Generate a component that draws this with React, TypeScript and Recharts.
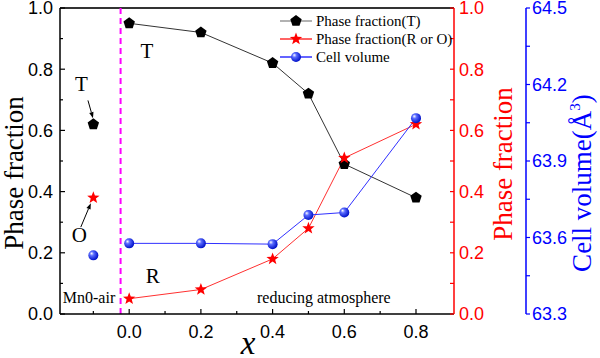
import React from 'react';
import { ComposedChart, Line, XAxis, YAxis, ReferenceLine, ReferenceDot, Legend } from 'recharts';

// ---- data ----
const xValues = [0.0, 0.2, 0.4, 0.5, 0.6, 0.8];
const phaseT = [0.95, 0.92, 0.82, 0.72, 0.49, 0.38];
const phaseRO = [0.05, 0.08, 0.18, 0.28, 0.51, 0.62];
const cellVolume = [63.577, 63.577, 63.574, 63.688, 63.698, 64.068];

const airX = [-0.1];
const airT = [0.62];
const airRO = [0.38];
const airVolume = [63.53];

const xTicks = [-0.1, 0.0, 0.1, 0.2, 0.3, 0.4, 0.5, 0.6, 0.7, 0.8];
const phaseTicks = [0, 0.1, 0.2, 0.3, 0.4, 0.5, 0.6, 0.7, 0.8, 0.9, 1.0];
const volTicks = [63.3, 63.45, 63.6, 63.75, 63.9, 64.05, 64.2, 64.35, 64.5];
const legendNames = ['Phase fraction(T)', 'Phase fraction(R or O)', 'Cell volume'];

const rows: any[] = [
  ...airX.map((x, i) => ({ x, tAir: airT[i], rAir: airRO[i], vAir: airVolume[i] })),
  ...xValues.map((x, i) => ({ x, t: phaseT[i], r: phaseRO[i], v: cellVolume[i] })),
];

const SANS = '"Liberation Sans", Arial, sans-serif';
const SERIF = '"Liberation Serif", "Times New Roman", serif';

// ---- marker shapes ----
const pentagonPts = (cx: number, cy: number, r: number) =>
  Array.from({ length: 5 }, (_, k) => {
    const a = ((-90 + 72 * k) * Math.PI) / 180;
    return `${cx + r * Math.cos(a)},${cy + r * Math.sin(a)}`;
  }).join(' ');
const starPts = (cx: number, cy: number, ro: number, ri: number) =>
  Array.from({ length: 10 }, (_, k) => {
    const a = ((-90 + 36 * k) * Math.PI) / 180;
    const r = k % 2 === 0 ? ro : ri;
    return `${cx + r * Math.cos(a)},${cy + r * Math.sin(a)}`;
  }).join(' ');

const Pent = ({ cx, cy }: any) => <polygon points={pentagonPts(cx, cy, 6)} fill="#000" />;
const Star = ({ cx, cy }: any) => <polygon points={starPts(cx, cy, 6.5, 2.7)} fill="#ff0000" />;
const Ball = ({ cx, cy }: any) => (
  <g>
    <defs>
      <radialGradient id="ballGrad" cx="40%" cy="40%" r="60%" fx="32%" fy="30%">
        <stop offset="0%" stopColor="#ffffff" />
        <stop offset="35%" stopColor="#5a6cff" />
        <stop offset="100%" stopColor="#0010c8" />
      </radialGradient>
    </defs>
    <circle cx={cx} cy={cy} r={5} fill="url(#ballGrad)" />
  </g>
);

const mkDot = (Comp: any) => (p: any) => {
  const { cx, cy, index } = p;
  if (cx == null || cy == null || p.value == null) return <g key={`e${index}`} />;
  return <Comp key={`d${index}`} cx={cx} cy={cy} />;
};

// ---- ticks ----
const isMajorPhase = (v: number) => Math.round(v * 10) % 2 === 0;
const LeftTick = ({ x, y, payload }: any) => {
  const major = isMajorPhase(payload.value);
  return (
    <g>
      <line x1={x} x2={x + (major ? 5 : 3)} y1={y} y2={y} stroke="#000" strokeWidth={1.2} />
      {major && (
        <text x={x - 7} y={y} dy="0.36em" textAnchor="end" fontSize={18} fontFamily={SANS} fill="#000">
          {payload.value.toFixed(1)}
        </text>
      )}
    </g>
  );
};
const RedTick = ({ x, y, payload }: any) => {
  const major = isMajorPhase(payload.value);
  return (
    <g>
      <line x1={x} x2={x - 4} y1={y} y2={y} stroke="#ff0000" strokeWidth={1.2} />
      {major && (
        <text x={x + 5} y={y} dy="0.36em" textAnchor="start" fontSize={18} fontFamily={SANS} fill="#ff0000">
          {payload.value.toFixed(1)}
        </text>
      )}
    </g>
  );
};
const BlueTick = ({ x, y, payload }: any) => {
  const major = Math.round((payload.value - 63.3) / 0.15) % 2 === 0;
  return (
    <g>
      <line x1={x} x2={x + 4} y1={y} y2={y} stroke="#0000ff" strokeWidth={1.2} />
      {major && (
        <text x={x + 6} y={y} dy="0.36em" textAnchor="start" fontSize={18} fontFamily={SANS} fill="#0000ff">
          {payload.value.toFixed(1)}
        </text>
      )}
    </g>
  );
};
const BottomTick = ({ x, y, payload }: any) => {
  const v = payload.value;
  const major = v >= 0 && Math.round(v * 10) % 2 === 0;
  return (
    <g>
      <line x1={x} x2={x} y1={y} y2={y - (major ? 5 : 3)} stroke="#000" strokeWidth={1.2} />
      {major && (
        <text x={x} y={y + 24} textAnchor="middle" fontSize={18} fontFamily={SANS} fill="#000">
          {v.toFixed(1)}
        </text>
      )}
    </g>
  );
};

// ---- annotations ----
const Arrow = (p: any) => {
  const { x1, y1, x2, y2 } = p;
  const a = Math.atan2(y2 - y1, x2 - x1);
  const L = 6, W = 2.2;
  const bx = x2 - L * Math.cos(a), by = y2 - L * Math.sin(a);
  const px = -Math.sin(a) * W, py = Math.cos(a) * W;
  return (
    <g>
      <line x1={x1} y1={y1} x2={bx} y2={by} stroke="#000" strokeWidth={1} />
      <polygon points={`${x2},${y2} ${bx + px},${by + py} ${bx - px},${by - py}`} fill="#000" />
    </g>
  );
};
const txt = (s: string, size: number) => (p: any) => (
  <text x={p.cx} y={p.cy} textAnchor="middle" fontSize={size} fontFamily={SERIF} fill="#000">
    {s}
  </text>
);

const LegendBox = () => (
  <svg width={190} height={60} style={{ display: 'block' }}>
    {legendNames.map((n, i) => {
      const cy = 11 + i * 18;
      const col = i === 0 ? '#999999' : i === 1 ? '#ff3030' : '#3030ff';
      const M = i === 0 ? Pent : i === 1 ? Star : Ball;
      return (
        <g key={n}>
          <line x1={2} x2={34} y1={cy} y2={cy} stroke={col} strokeWidth={1.5} />
          <M cx={18} cy={cy} />
          <text x={38} y={cy} dy="0.35em" fontSize={15} fontFamily={SERIF} fill="#000">
            {n}
          </text>
        </g>
      );
    })}
  </svg>
);

export default function App() {
  return (
    <div style={{ position: 'absolute', left: 0, top: 0, width: 600, height: 358, background: '#fff' }}>
      <ComposedChart width={600} height={358} data={rows} margin={{ top: 8, right: 0, bottom: 0, left: 0 }}>
        <XAxis
          dataKey="x"
          type="number"
          domain={[-0.193, 0.906]}
          ticks={xTicks}
          interval={0}
          height={44}
          tickSize={0}
          tickMargin={0}
          tickLine={false}
          tick={<BottomTick />}
          axisLine={{ stroke: '#000', strokeWidth: 1.5 }}
          allowDataOverflow
          label={{
            content: (pr: any) => {
              const vb = pr.viewBox;
              return (
                <text x={vb.x + vb.width / 2 - 9} y={vb.y + 40} textAnchor="middle" fontSize={33} fontStyle="italic" fontFamily={SERIF} fill="#000">
                  x
                </text>
              );
            },
          }}
        />
        <YAxis
          yAxisId="left"
          domain={[0, 1]}
          ticks={phaseTicks}
          interval={0}
          width={60}
          tickSize={0}
          tickMargin={0}
          tickLine={false}
          tick={<LeftTick />}
          axisLine={{ stroke: '#000', strokeWidth: 1.5 }}
          label={{
            content: (pr: any) => {
              const vb = pr.viewBox;
              const x = vb.x + 23, y = vb.y + 165;
              return (
                <text x={x} y={y} transform={`rotate(-90, ${x}, ${y})`} textAnchor="middle" fontSize={27} fontFamily={SERIF} fill="#000">
                  Phase fraction
                </text>
              );
            },
          }}
        />
        <YAxis
          yAxisId="right"
          orientation="right"
          domain={[0, 1]}
          ticks={phaseTicks}
          interval={0}
          width={72}
          tickSize={0}
          tickMargin={0}
          tickLine={false}
          tick={<RedTick />}
          axisLine={{ stroke: '#ff0000', strokeWidth: 1.5 }}
          label={{
            content: (pr: any) => {
              const vb = pr.viewBox;
              const x = vb.x + 58, y = vb.y + 156;
              return (
                <text x={x} y={y} transform={`rotate(-90, ${x}, ${y})`} textAnchor="middle" fontSize={27} fontFamily={SERIF} fill="#ff0000">
                  Phase fraction
                </text>
              );
            },
          }}
        />
        <YAxis
          yAxisId="vol"
          orientation="right"
          domain={[63.3, 64.5]}
          ticks={volTicks}
          interval={0}
          width={74}
          tickSize={0}
          tickMargin={0}
          tickLine={false}
          tick={<BlueTick />}
          axisLine={{ stroke: '#0000ff', strokeWidth: 1.5 }}
          label={{
            content: (pr: any) => {
              const vb = pr.viewBox;
              const x = vb.x + 65, y = vb.y + 175;
              return (
                <text x={x} y={y} transform={`rotate(-90, ${x}, ${y})`} textAnchor="middle" fontSize={27} fontFamily={SERIF} fill="#0000ff">
                  Cell volume(Å<tspan dy={-11} fontSize={15}>3</tspan><tspan dy={11}>)</tspan>
                </text>
              );
            },
          }}
        />
        <Legend layout="vertical" align="center" verticalAlign="middle" wrapperStyle={{ left: 278, top: 10, width: 190, height: 60 }} content={() => <LegendBox />} />

        <ReferenceLine yAxisId="left" y={1} stroke="#333" strokeWidth={2} />
        <ReferenceLine yAxisId="left" x={-0.024} stroke="#ff00ff" strokeWidth={2} strokeDasharray="6 4" />

        <Line yAxisId="left" dataKey="t" stroke="#333" strokeWidth={1} dot={mkDot(Pent)} activeDot={false} isAnimationActive={false} connectNulls={false} />
        <Line yAxisId="right" dataKey="r" stroke="#ff3030" strokeWidth={1} dot={mkDot(Star)} activeDot={false} isAnimationActive={false} connectNulls={false} />
        <Line yAxisId="vol" dataKey="v" stroke="#3030ff" strokeWidth={1} dot={mkDot(Ball)} activeDot={false} isAnimationActive={false} connectNulls={false} />
        <Line yAxisId="left" dataKey="tAir" stroke="none" dot={mkDot(Pent)} activeDot={false} isAnimationActive={false} />
        <Line yAxisId="right" dataKey="rAir" stroke="none" dot={mkDot(Star)} activeDot={false} isAnimationActive={false} />
        <Line yAxisId="vol" dataKey="vAir" stroke="none" dot={mkDot(Ball)} activeDot={false} isAnimationActive={false} />

        <ReferenceLine yAxisId="left" segment={[{ x: -0.115, y: 0.698 }, { x: -0.101, y: 0.64 }]} shape={Arrow} />
        <ReferenceLine yAxisId="left" segment={[{ x: -0.135, y: 0.284 }, { x: -0.107, y: 0.362 }]} shape={Arrow} />
        <ReferenceDot yAxisId="left" x={-0.133} y={0.728} r={0} shape={txt('T', 21)} />
        <ReferenceDot yAxisId="left" x={-0.139} y={0.235} r={0} shape={txt('O', 21)} />
        <ReferenceDot yAxisId="left" x={0.0497} y={0.835} r={0} shape={txt('T', 21)} />
        <ReferenceDot yAxisId="left" x={0.066} y={0.101} r={0} shape={txt('R', 21)} />
        <ReferenceDot yAxisId="left" x={-0.112} y={0.036} r={0} shape={txt('Mn0-air', 16)} />
        <ReferenceDot yAxisId="left" x={0.543} y={0.036} r={0} shape={txt('reducing atmosphere', 16)} />
      </ComposedChart>
    </div>
  );
}
